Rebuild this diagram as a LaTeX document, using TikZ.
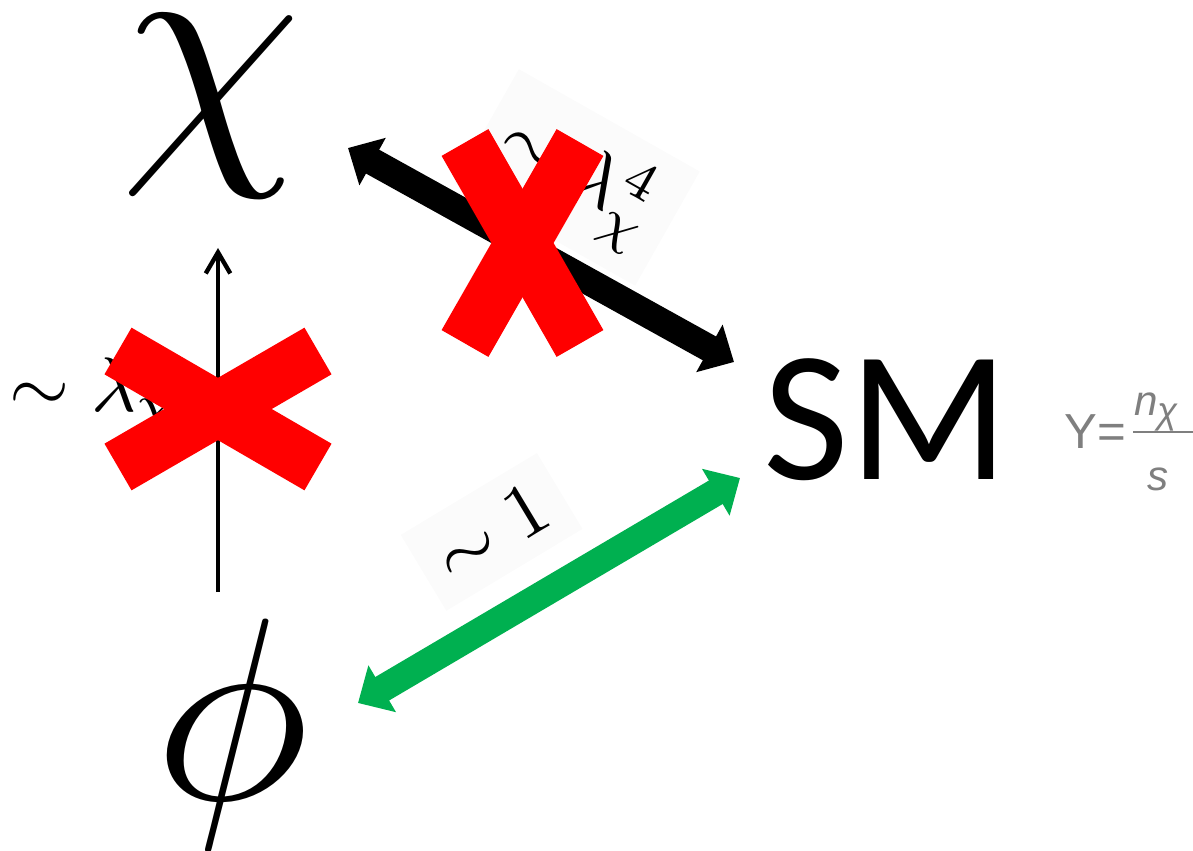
\documentclass[tikz,border=0pt]{standalone}
\usepackage{fontspec}
\usetikzlibrary{arrows.meta}
\newfontfamily\smfont{Carlito}
\newfontfamily\yfont{Liberation Sans}
\definecolor{pptgreen}{RGB}{0,176,80}
\definecolor{pptred}{RGB}{255,0,0}
\definecolor{yieldgray}{RGB}{127,127,127}
\tikzset{
    bigarrow/.style={line width=15.5pt, {Triangle[length=16pt,width=30pt]}-{Triangle[length=16pt,width=30pt]}},
    thinarrow/.style={line width=2.5pt, -{Straight Barb[length=12pt,width=14pt]}},
    crossbar/.style={line width=30.7pt, pptred},
    coupling/.style={inner sep=0pt, scale=4.4},
    labelbox/.style={fill=black!1.5, inner sep=2.5pt},
    yieldtext/.style={inner sep=0pt, text=yieldgray, font=\yfont\fontsize{24}{26}\selectfont}
}
\begin{document}
\begin{tikzpicture}[x=0.02cm, y=-0.02cm]
    \useasboundingbox (0,0) rectangle (1193,851);
    % Particles
    \node[inner sep=0pt, scale=16.5] (chi) at (211,106) {$\chi$};
    \node[inner sep=0pt, scale=14.8] (phi) at (232,734) {$\phi$};
    \node[inner sep=0pt, anchor=base, font=\smfont\fontsize{106}{110}\selectfont] (sm) at (886,479) {SM};
    % Yield Y = n_chi / s
    \node[yieldtext, anchor=base west, font=\yfont\fontsize{28}{30}\selectfont] (yeq) at (1064,448) {Y=};
    \node[yieldtext, anchor=base west] (ynum) at (1134,415) {\itshape n\raisebox{-0.2em}{\fontsize{21}{22}\selectfont χ}};
    \node[yieldtext, anchor=base west] (yden) at (1147,490) {\itshape s};
    \draw[yieldgray, line width=1.6pt] (1133,432) -- (1193,432);
    % Couplings
    \node[coupling, labelbox, anchor=base west, rotate=-29.5] (lamchi) at (477,140) {$\sim\lambda_\chi^4$};
    \node[coupling, anchor=base west] (lamphi) at (8,411) {$\sim\lambda_\chi$};
    \node[coupling, labelbox, anchor=base west, rotate=31] (one) at (435,595) {$\sim1$};
    % Arrow ends
    \coordinate (chi-sm) at (348,148);
    \coordinate (sm-chi) at (734,362);
    \coordinate (phi-sm) at (358,703);
    \coordinate (sm-phi) at (740,478);
    \coordinate (phi-chi) at (218,592);
    \coordinate (chi-phi) at (218,248);
    % Arrows
    \draw[bigarrow] (chi-sm) -- (sm-chi);
    \draw[bigarrow, pptgreen] (phi-sm) -- (sm-phi);
    \draw[thinarrow] (phi-chi) -- (chi-phi);
    % Crosses
    \draw[crossbar] (118,351) -- (318,467);
    \draw[crossbar] (118,467) -- (318,351);
    \draw[crossbar] (465,142.5) -- (580,343.5);
    \draw[crossbar] (580,142.5) -- (465,343.5);
\end{tikzpicture}
\end{document}
